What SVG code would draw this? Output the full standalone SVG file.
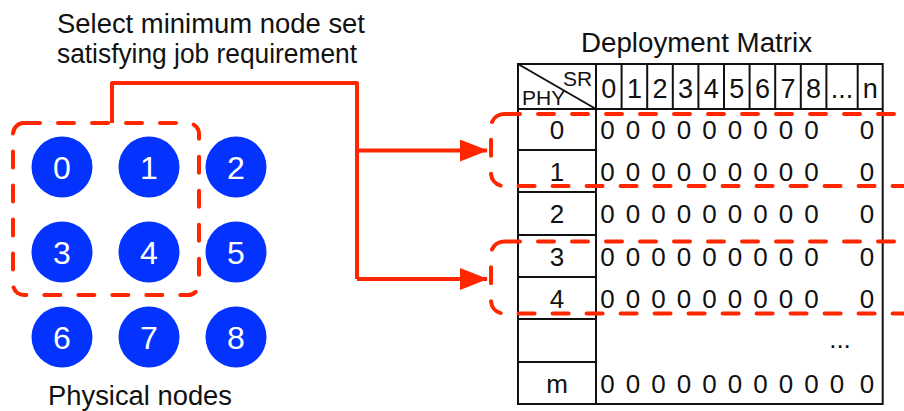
<svg xmlns="http://www.w3.org/2000/svg" width="904" height="411" viewBox="0 0 904 411">
  <style>
    .lbl { font-family: "Liberation Sans", Arial, sans-serif; font-size: 27px; fill: #111; }
    .cell { font-family: "Liberation Sans", Arial, sans-serif; font-size: 26px; fill: #111; text-anchor: middle; }
    .head { font-size: 27px; }
    .small { font-family: "Liberation Sans", Arial, sans-serif; font-size: 21px; fill: #111; }
    .node circle { fill: #0433FF; }
    .node text { font-family: "Liberation Sans", Arial, sans-serif; font-size: 32px; fill: #fff; text-anchor: middle; }
    .grid { fill: none; stroke: #111; stroke-width: 2; }
    .sel { fill: none; stroke: #FF2600; stroke-width: 4; stroke-dasharray: 16 18; stroke-linecap: round; }
    .wire { fill: none; stroke: #FF2600; stroke-width: 4; stroke-linejoin: round; }
  </style>
  <defs>
    <marker id="arrow" markerUnits="userSpaceOnUse" markerWidth="28" markerHeight="22" refX="27" refY="11" orient="auto">
      <path d="M0,0 L28,11 L0,22 Z" fill="#FF2600"/>
    </marker>
  </defs>

  <!-- captions -->
  <text class="lbl" x="57" y="33" textLength="308" lengthAdjust="spacingAndGlyphs">Select minimum node set</text>
  <text class="lbl" x="57" y="63" textLength="300" lengthAdjust="spacingAndGlyphs">satisfying job requirement</text>
  <text class="lbl" x="581" y="52" textLength="231" lengthAdjust="spacingAndGlyphs">Deployment Matrix</text>
  <text class="lbl" x="48" y="405" textLength="184" lengthAdjust="spacingAndGlyphs">Physical nodes</text>

  <!-- physical nodes -->
  <g id="node-0" class="node"><circle cx="62" cy="167" r="30.5"/><text x="62" y="178.5">0</text></g>
  <g id="node-1" class="node"><circle cx="149" cy="167" r="30.5"/><text x="149" y="178.5">1</text></g>
  <g id="node-2" class="node"><circle cx="236" cy="167" r="30.5"/><text x="236" y="178.5">2</text></g>
  <g id="node-3" class="node"><circle cx="62" cy="252" r="30.5"/><text x="62" y="263.5">3</text></g>
  <g id="node-4" class="node"><circle cx="149" cy="252" r="30.5"/><text x="149" y="263.5">4</text></g>
  <g id="node-5" class="node"><circle cx="236" cy="252" r="30.5"/><text x="236" y="263.5">5</text></g>
  <g id="node-6" class="node"><circle cx="62" cy="337" r="30.5"/><text x="62" y="348.5">6</text></g>
  <g id="node-7" class="node"><circle cx="149" cy="337" r="30.5"/><text x="149" y="348.5">7</text></g>
  <g id="node-8" class="node"><circle cx="236" cy="337" r="30.5"/><text x="236" y="348.5">8</text></g>

  <!-- deployment matrix -->
  <g id="matrix">
    <rect class="grid" x="518" y="64" width="364.7" height="340"/>
    <line class="grid" x1="518" y1="109" x2="882.7" y2="109"/>
    <line class="grid" x1="596" y1="64" x2="596" y2="404"/>
    <line class="grid" x1="518" y1="64" x2="596" y2="109"/>
    <!-- header column dividers -->
    <path class="grid" d="M621.6,64V109 M647.2,64V109 M672.8,64V109 M698.4,64V109 M724,64V109 M749.6,64V109 M775.2,64V109 M800.8,64V109 M826.4,64V109 M857.7,64V109"/>
    <!-- PHY row dividers -->
    <path class="grid" d="M518,150H596 M518,192H596 M518,235H596 M518,277H596 M518,319H596 M518,362H596"/>

    <text class="small" x="563" y="86">SR</text>
    <text class="small" x="522" y="105">PHY</text>

    <g class="cell head">
      <text x="608.8" y="97.5">0</text><text x="634.4" y="97.5">1</text><text x="660" y="97.5">2</text>
      <text x="685.6" y="97.5">3</text><text x="711.2" y="97.5">4</text><text x="736.8" y="97.5">5</text>
      <text x="762.4" y="97.5">6</text><text x="788" y="97.5">7</text><text x="813.6" y="97.5">8</text>
      <text x="842" y="97.5">...</text><text x="870.2" y="97.5">n</text>
    </g>

    <g class="cell">
      <text x="557" y="138.5">0</text>
      <text x="557" y="181">1</text>
      <text x="557" y="223">2</text>
      <text x="557" y="265.5">3</text>
      <text x="557" y="308">4</text>
      <text x="557" y="393">m</text>
    </g>

    <!-- row values -->
    <g class="cell">
      <text x="607.5" y="138.5">0</text><text x="633" y="138.5">0</text><text x="658.5" y="138.5">0</text><text x="684" y="138.5">0</text><text x="709.5" y="138.5">0</text><text x="735" y="138.5">0</text><text x="760.5" y="138.5">0</text><text x="786" y="138.5">0</text><text x="811.5" y="138.5">0</text><text x="867" y="138.5">0</text>
      <text x="607.5" y="181">0</text><text x="633" y="181">0</text><text x="658.5" y="181">0</text><text x="684" y="181">0</text><text x="709.5" y="181">0</text><text x="735" y="181">0</text><text x="760.5" y="181">0</text><text x="786" y="181">0</text><text x="811.5" y="181">0</text><text x="867" y="181">0</text>
      <text x="607.5" y="223">0</text><text x="633" y="223">0</text><text x="658.5" y="223">0</text><text x="684" y="223">0</text><text x="709.5" y="223">0</text><text x="735" y="223">0</text><text x="760.5" y="223">0</text><text x="786" y="223">0</text><text x="811.5" y="223">0</text><text x="867" y="223">0</text>
      <text x="607.5" y="265.5">0</text><text x="633" y="265.5">0</text><text x="658.5" y="265.5">0</text><text x="684" y="265.5">0</text><text x="709.5" y="265.5">0</text><text x="735" y="265.5">0</text><text x="760.5" y="265.5">0</text><text x="786" y="265.5">0</text><text x="811.5" y="265.5">0</text><text x="867" y="265.5">0</text>
      <text x="607.5" y="308">0</text><text x="633" y="308">0</text><text x="658.5" y="308">0</text><text x="684" y="308">0</text><text x="709.5" y="308">0</text><text x="735" y="308">0</text><text x="760.5" y="308">0</text><text x="786" y="308">0</text><text x="811.5" y="308">0</text><text x="867" y="308">0</text>
      <text x="840" y="348">...</text>
      <text x="607.5" y="393">0</text><text x="633" y="393">0</text><text x="658.5" y="393">0</text><text x="684" y="393">0</text><text x="709.5" y="393">0</text><text x="735" y="393">0</text><text x="760.5" y="393">0</text><text x="786" y="393">0</text><text x="811.5" y="393">0</text><text x="837" y="393">0</text><text x="867" y="393">0</text>
    </g>
  </g>

  <!-- selection outlines -->
  <g id="selection">
    <rect class="sel" x="13" y="123" width="186" height="172" rx="11"/>
    <rect class="sel" x="491" y="114" width="440" height="72" rx="13"/>
    <rect class="sel" x="491" y="241.5" width="440" height="72" rx="13"/>
  </g>

  <!-- connectors -->
  <g id="connectors">
    <path class="wire" d="M112,123 V83 H357 V279"/>
    <path class="wire" d="M357,150.5 H487" marker-end="url(#arrow)"/>
    <path class="wire" d="M357,279 H487" marker-end="url(#arrow)"/>
  </g>
</svg>
